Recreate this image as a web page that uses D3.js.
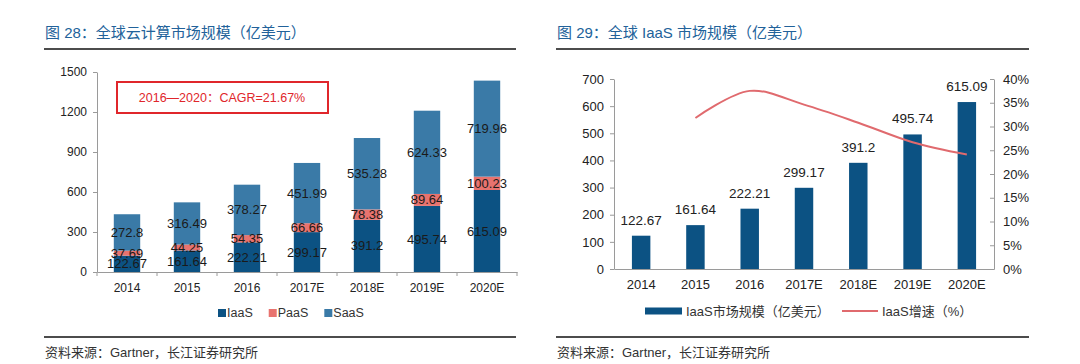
<!DOCTYPE html>
<html>
<head>
<meta charset="utf-8">
<title>全球云计算市场规模</title>
<style>
  body { margin: 0; background: #fff; }
  svg text { font-family: "Liberation Sans", Arial, "Noto Sans CJK SC", sans-serif; }
  .cjk { font-family: "Liberation Sans", "Noto Sans CJK SC", sans-serif; }
</style>
</head>
<body>
<svg id="chart" width="1080" height="364"></svg>
<script src="https://cdn.jsdelivr.net/npm/d3@7/dist/d3.min.js"></script>
<script>
// ---- data ----
var years = ['2014', '2015', '2016', '2017E', '2018E', '2019E', '2020E'];
var iaas = [122.67, 161.64, 222.21, 299.17, 391.2, 495.74, 615.09];
var paas = [37.69, 44.25, 54.35, 66.66, 78.38, 89.64, 100.23];
var saas = [272.8, 316.49, 378.27, 451.99, 535.28, 624.33, 719.96];
var growth = [null, 31.8, 37.5, 34.6, 30.8, 26.7, 24.1];   // IaaS 增速 %
var leftTicks = [0, 300, 600, 900, 1200, 1500];
var rightTicks = [0, 100, 200, 300, 400, 500, 600, 700];
var pctTicks = [0, 5, 10, 15, 20, 25, 30, 35, 40];

var cIaas = '#0c5283', cPaas = '#e8736f', cSaas = '#3a7aa7';
var titleColor = '#22629a';
var axisColor = '#9a9a9a';

var svg = d3.select('#chart');

// ---- panel frames: title, rules, source ----
function frame(x0, x1, title) {
  svg.append('text').attr('class', 'cjk')
    .attr('x', x0 + 1).attr('y', 38)
    .attr('font-size', 15).attr('fill', titleColor)
    .text(title);
  svg.append('line').attr('x1', x0).attr('x2', x1).attr('y1', 49).attr('y2', 49)
    .attr('stroke', '#111').attr('stroke-width', 1.5);
  svg.append('line').attr('x1', x0).attr('x2', x1).attr('y1', 337).attr('y2', 337)
    .attr('stroke', '#111').attr('stroke-width', 1.5);
  svg.append('text').attr('class', 'cjk')
    .attr('x', x0 + 1).attr('y', 357)
    .attr('font-size', 13).attr('fill', '#333')
    .text('资料来源：Gartner，长江证券研究所');
}
frame(44, 516, '图 28：全球云计算市场规模（亿美元）');
frame(556, 1029, '图 29：全球 IaaS 市场规模（亿美元）');

// ================= left chart: stacked =================
var x1 = d3.scaleBand().domain(years).range([97, 517]).paddingInner(0.56).paddingOuter(0.28);
var y1 = d3.scaleLinear().domain([0, 1500]).range([272, 72]);

var stackData = years.map(function(d, i) {
  return { year: d, IaaS: iaas[i], PaaS: paas[i], SaaS: saas[i] };
});
var keys = ['IaaS', 'PaaS', 'SaaS'];
var colors = { IaaS: cIaas, PaaS: cPaas, SaaS: cSaas };
var series = d3.stack().keys(keys)(stackData);

var gL = svg.append('g');
series.forEach(function(s) {
  gL.selectAll(null).data(s).enter().append('rect')
    .attr('x', function(d) { return x1(d.data.year); })
    .attr('width', x1.bandwidth())
    .attr('y', function(d) { return y1(d[1]); })
    .attr('height', function(d) { return y1(d[0]) - y1(d[1]); })
    .attr('fill', colors[s.key]);
});
series.forEach(function(s) {
  gL.selectAll(null).data(s).enter().append('text')
    .attr('x', function(d) { return x1(d.data.year) + x1.bandwidth() / 2; })
    .attr('y', function(d) { return (y1(d[0]) + y1(d[1])) / 2; })
    .attr('dy', '0.35em')
    .attr('text-anchor', 'middle')
    .attr('font-size', 13).attr('fill', '#1a1a1a')
    .text(function(d) { return d.data[s.key]; });
});

var axL = gL.append('g').attr('transform', 'translate(97,0)')
  .call(d3.axisLeft(y1).tickValues(leftTicks).tickFormat(d3.format('d'))
    .tickSize(4).tickSizeOuter(0).tickPadding(6));
var axB = gL.append('g').attr('transform', 'translate(0,272)')
  .call(d3.axisBottom(x1).tickSize(0).tickPadding(11));
// category boundary ticks
gL.selectAll(null).data(d3.range(years.length + 1)).enter().append('line')
  .attr('x1', function(i) { return 97 + i * x1.step(); })
  .attr('x2', function(i) { return 97 + i * x1.step(); })
  .attr('y1', 272).attr('y2', 276)
  .attr('stroke', axisColor);
[axL, axB].forEach(function(a) {
  a.selectAll('path, line').attr('stroke', axisColor);
  a.selectAll('text').attr('font-size', 12).attr('fill', '#222');
});

// CAGR box
gL.append('rect').attr('x', 117).attr('y', 82).attr('width', 211).attr('height', 31)
  .attr('fill', 'none').attr('stroke', '#e0262b').attr('stroke-width', 2);
gL.append('text').attr('class', 'cjk')
  .attr('x', 222).attr('y', 98).attr('dy', '0.35em')
  .attr('text-anchor', 'middle').attr('font-size', 12.5).attr('fill', '#e0262b')
  .text('2016—2020：CAGR=21.67%');

// legend left
var legL = gL.append('g').attr('transform', 'translate(218,313)');
var lx = 0;
keys.forEach(function(k) {
  legL.append('rect').attr('x', lx).attr('y', -4).attr('width', 8).attr('height', 8).attr('fill', colors[k]);
  var t = legL.append('text').attr('x', lx + 9).attr('y', 0).attr('dy', '0.35em')
    .attr('font-size', 12.5).attr('fill', '#333').text(k);
  lx += 9 + t.node().getComputedTextLength() + 16;
});

// ================= right chart: bars + growth line =================
var x2 = d3.scaleBand().domain(years).range([614, 994]).paddingInner(0.66).paddingOuter(0.33);
var y2 = d3.scaleLinear().domain([0, 700]).range([269, 79]);
var y3 = d3.scaleLinear().domain([0, 40]).range([269, 79]);

var gR = svg.append('g');
gR.selectAll(null).data(iaas).enter().append('rect')
  .attr('x', function(d, i) { return x2(years[i]); })
  .attr('width', x2.bandwidth())
  .attr('y', function(d) { return y2(d); })
  .attr('height', function(d) { return y2(0) - y2(d); })
  .attr('fill', cIaas);
gR.selectAll(null).data(iaas).enter().append('text')
  .attr('x', function(d, i) { return x2(years[i]) + x2.bandwidth() / 2; })
  .attr('y', function(d) { return y2(d) - 11; })
  .attr('text-anchor', 'middle')
  .attr('font-size', 13.5).attr('fill', '#222')
  .text(function(d) { return d; });

var line = d3.line()
  .defined(function(d) { return d != null; })
  .x(function(d, i) { return x2(years[i]) + x2.bandwidth() / 2; })
  .y(function(d) { return y3(d); })
  .curve(d3.curveCatmullRom.alpha(0.5));
gR.append('path').datum(growth).attr('d', line)
  .attr('fill', 'none').attr('stroke', '#e06a6e').attr('stroke-width', 2);

var axR1 = gR.append('g').attr('transform', 'translate(614,0)')
  .call(d3.axisLeft(y2).tickValues(rightTicks).tickSize(4).tickSizeOuter(0).tickPadding(6));
var axR2 = gR.append('g').attr('transform', 'translate(994,0)')
  .call(d3.axisRight(y3).tickValues(pctTicks).tickSize(-4).tickSizeOuter(0).tickPadding(9)
    .tickFormat(function(d) { return d + '%'; }));
var axR3 = gR.append('g').attr('transform', 'translate(0,269)')
  .call(d3.axisBottom(x2).tickSize(0).tickSizeOuter(0).tickPadding(11));
[axR1, axR2, axR3].forEach(function(a) {
  a.selectAll('path, line').attr('stroke', axisColor);
  a.selectAll('text').attr('font-size', 13).attr('fill', '#222');
});

// legend right
var legR = gR.append('g').attr('transform', 'translate(645,311)');
legR.append('rect').attr('x', 0).attr('y', -3.5).attr('width', 37).attr('height', 7).attr('fill', cIaas);
legR.append('text').attr('class', 'cjk').attr('x', 41).attr('y', 0).attr('dy', '0.35em')
  .attr('font-size', 13).attr('fill', '#333').text('IaaS市场规模（亿美元）');
legR.append('line').attr('x1', 197).attr('x2', 233).attr('y1', 0).attr('y2', 0)
  .attr('stroke', '#e06a6e').attr('stroke-width', 2);
legR.append('text').attr('class', 'cjk').attr('x', 237).attr('y', 0).attr('dy', '0.35em')
  .attr('font-size', 13).attr('fill', '#333').text('IaaS增速（%）');
</script>
</body>
</html>
